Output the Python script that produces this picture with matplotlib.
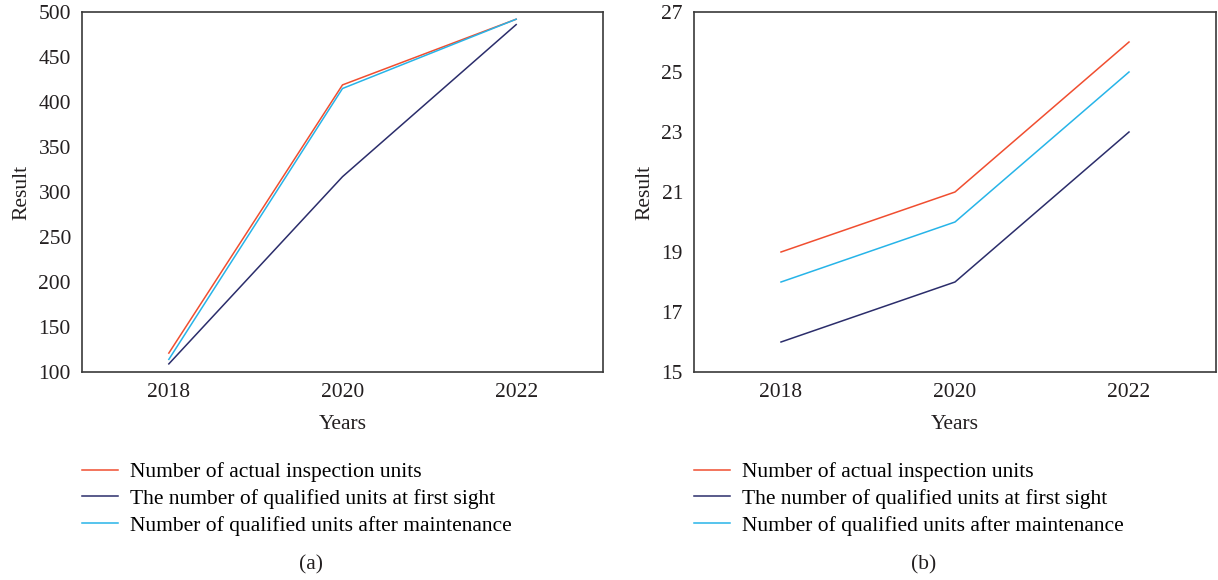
import matplotlib.pyplot as plt

plt.rcParams['font.family'] = ['Liberation Serif', 'DejaVu Serif']

years = [2018, 2020, 2022]
labels = ['Number of actual inspection units',
          'The number of qualified units at first sight',
          'Number of qualified units after maintenance']
colors = ['#f04e30', '#2b2d6b', '#27b4e8']

# panel (a)
actual_a = [121, 419, 492]
first_a = [109, 317, 486]
after_a = [114, 415, 492]

# panel (b)
actual_b = [19, 21, 26]
first_b = [16, 18, 23]
after_b = [18, 20, 25]

fig = plt.figure(figsize=(12.18, 5.8), dpi=100)
W, H = 1218, 580
ax1 = fig.add_axes([82 / W, 1 - 372 / H, 521 / W, 360 / H])
ax2 = fig.add_axes([694 / W, 1 - 372 / H, 522 / W, 360 / H])

fs = 15.5
panels = [(ax1, [actual_a, first_a, after_a], (100, 500), range(100, 501, 50), '(a)'),
          (ax2, [actual_b, first_b, after_b], (15, 27), range(15, 28, 2), '(b)')]

for ax, series, ylim, yticks, tag in panels:
    for vals, c, lab in zip(series, colors, labels):
        ax.plot(years, vals, color=c, linewidth=1.1, label=lab)
    ax.set_xlim(2017, 2023)
    ax.set_ylim(*ylim)
    ax.set_xticks(years)
    ax.set_yticks(list(yticks))
    ax.tick_params(length=0, labelsize=fs, pad=8, colors='#231f20')
    for s in ax.spines.values():
        s.set_color('#3a3a3a')
        s.set_linewidth(1.2)
    ax.set_xlabel('Years', fontsize=fs, color='#231f20', labelpad=9)
    ax.set_ylabel('Result', fontsize=fs, color='#231f20', labelpad=5)
    ax.legend(loc='upper left', bbox_to_anchor=(0.0, -0.25), frameon=False,
              fontsize=fs, handlelength=1.65, handletextpad=0.6,
              borderpad=0, borderaxespad=0, labelspacing=0.31)
    ax.text(0.44, -0.537, tag, transform=ax.transAxes,
            ha='center', va='center', fontsize=fs, color='#231f20')

plt.savefig('out.png', dpi=100)
